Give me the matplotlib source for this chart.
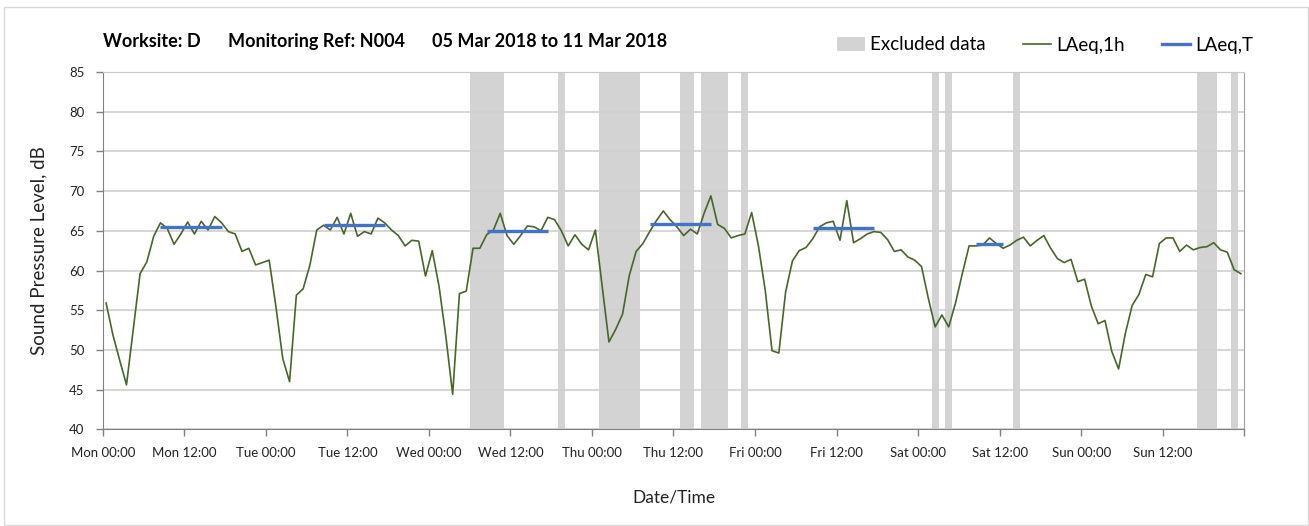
import numpy as np
import matplotlib
matplotlib.use('Agg')
from matplotlib import pyplot as plt
from matplotlib.patches import Rectangle, Patch
from matplotlib.lines import Line2D

plt.rcParams['font.family'] = ['Lato', 'DejaVu Sans']

# hourly LAeq,1h values, Mon 00:00-01:00 ... Sun 23:00-24:00
mon = [55.9, 51.9, 48.7, 45.6, 52.6, 59.6, 61.1, 64.3, 66.0, 65.3, 63.3, 64.6,
       66.1, 64.6, 66.2, 65.1, 66.8, 66.0, 64.9, 64.6, 62.4, 62.8, 60.7, 61.0]
tue = [61.3, 55.4, 48.9, 46.0, 56.9, 57.7, 60.7, 65.1, 65.7, 65.1, 66.7, 64.6,
       67.2, 64.3, 64.9, 64.6, 66.6, 66.0, 65.1, 64.4, 63.1, 63.8, 63.7, 59.3]
wed = [62.5, 58.0, 51.7, 44.4, 57.1, 57.4, 62.8, 62.8, 64.5, 65.1, 67.2, 64.4,
       63.3, 64.4, 65.6, 65.5, 65.0, 66.7, 66.4, 65.0, 63.1, 64.5, 63.3, 62.6]
thu = [65.1, 58.0, 51.0, 52.6, 54.5, 59.4, 62.4, 63.4, 64.9, 66.3, 67.5, 66.4,
       65.5, 64.4, 65.2, 64.6, 67.2, 69.4, 65.8, 65.3, 64.1, 64.4, 64.6, 67.3]
fri = [63.1, 57.5, 49.9, 49.6, 57.3, 61.2, 62.5, 62.9, 64.0, 65.5, 66.0, 66.2,
       63.8, 68.8, 63.5, 64.0, 64.6, 64.9, 64.8, 63.9, 62.4, 62.6, 61.7, 61.3]
sat = [60.5, 56.5, 52.9, 54.4, 52.9, 55.9, 59.6, 63.1, 63.1, 63.2, 64.1, 63.4,
       62.8, 63.2, 63.8, 64.2, 63.1, 63.8, 64.4, 62.8, 61.5, 61.0, 61.4, 58.6]
sun = [58.9, 55.5, 53.3, 53.7, 49.8, 47.6, 52.1, 55.6, 57.0, 59.5, 59.2, 63.4,
       64.1, 64.1, 62.4, 63.2, 62.6, 62.9, 63.0, 63.5, 62.6, 62.3, 60.1, 59.6]

laeq_1h = mon + tue + wed + thu + fri + sat + sun
hours = np.arange(len(laeq_1h)) + 0.5  # hours from Mon 00:00, mid-hour

# LAeq,T periods: start hour, end hour, level
laeq_t = [(8.5, 17.5, 65.5), (32.5, 41.5, 65.7), (56.5, 65.5, 65.0),
          (80.5, 89.5, 65.9), (104.5, 113.5, 65.4), (128.5, 132.5, 63.3)]

# excluded periods, hours from Mon 00:00
excluded = [(54, 59), (67, 68), (73, 79), (85, 87), (88, 92), (94, 95),
            (122, 123), (124, 125), (134, 135), (161, 164), (166, 167)]

tick_hours = list(range(0, 169, 12))
tick_labels = ['Mon 00:00', 'Mon 12:00', 'Tue 00:00', 'Tue 12:00', 'Wed 00:00',
               'Wed 12:00', 'Thu 00:00', 'Thu 12:00', 'Fri 00:00', 'Fri 12:00',
               'Sat 00:00', 'Sat 12:00', 'Sun 00:00', 'Sun 12:00', '']

green = '#46662a'
blue = '#4472c4'
band = '#d3d3d3'

fig = plt.figure(figsize=(13.09, 5.26), dpi=100)
fig.patches.append(Rectangle((4 / 1309, 1 / 526), 1304 / 1309, 518 / 526,
                             transform=fig.transFigure, fill=False,
                             edgecolor='#d9d9d9', linewidth=1.0))

ax = fig.add_axes([102.7 / 1309, 1 - 429.3 / 526, (1244.3 - 102.7) / 1309, (429.3 - 72) / 526])

for s, e in excluded:
    ax.axvspan(s, e, color=band, linewidth=0, zorder=0.3)

ax.plot(hours, laeq_1h, color=green, linewidth=1.2, zorder=3)
for s, e, v in laeq_t:
    ax.plot([s, e], [v, v], color=blue, linewidth=2.4, solid_capstyle='butt', zorder=4)

ax.set_xlim(0, 168)
ax.set_ylim(40, 85)
ax.set_yticks(range(40, 86, 5))
ax.set_xticks(tick_hours)
ax.set_xticklabels(tick_labels)
ax.set_axisbelow(True)
ax.yaxis.grid(True, color='#d0d0d0', linewidth=1.2)
ax.set_xticks(range(0, 169, 24), minor=True)
ax.xaxis.grid(True, which='minor', color='#e0e0e0', linewidth=1.0)
ax.tick_params(axis='x', which='minor', length=0)
ax.tick_params(axis='both', which='major', direction='out', length=5, width=1,
               color='#808080', labelsize=9.5, labelcolor='#222222')
ax.tick_params(axis='x', pad=8)
ax.tick_params(axis='y', pad=8)

for side in ['left', 'bottom']:
    ax.spines[side].set_color('#808080')
ax.spines['top'].set_color('#c8c8c8')
ax.spines['right'].set_color('#a0a0a0')

ax.set_ylabel('Sound Pressure Level, dB', fontsize=13.5, color='#222222', labelpad=16)
ax.set_xlabel('Date/Time', fontsize=12.5, color='#222222', labelpad=22)

fig.text(103 / 1309, 1 - 41 / 526, 'Worksite: D', fontsize=13, fontweight='bold', va='center')
fig.text(228 / 1309, 1 - 41 / 526, 'Monitoring Ref: N004', fontsize=13, fontweight='bold', va='center')
fig.text(432 / 1309, 1 - 41 / 526, '05 Mar 2018 to 11 Mar 2018', fontsize=13, fontweight='bold', va='center')

handles = [Patch(facecolor=band, edgecolor='none', label='Excluded data'),
           Line2D([], [], color=green, linewidth=1.2, label='LAeq,1h'),
           Line2D([], [], color=blue, linewidth=2.4, label='LAeq,T')]
fig.legend(handles=handles, loc='center right', bbox_to_anchor=(1253 / 1309, 1 - 45 / 526),
           ncol=3, frameon=False, fontsize=13.5, handlelength=1.5, handletextpad=0.25,
           columnspacing=2.0, borderpad=0, borderaxespad=0)

fig.savefig('out.png', dpi=100)
